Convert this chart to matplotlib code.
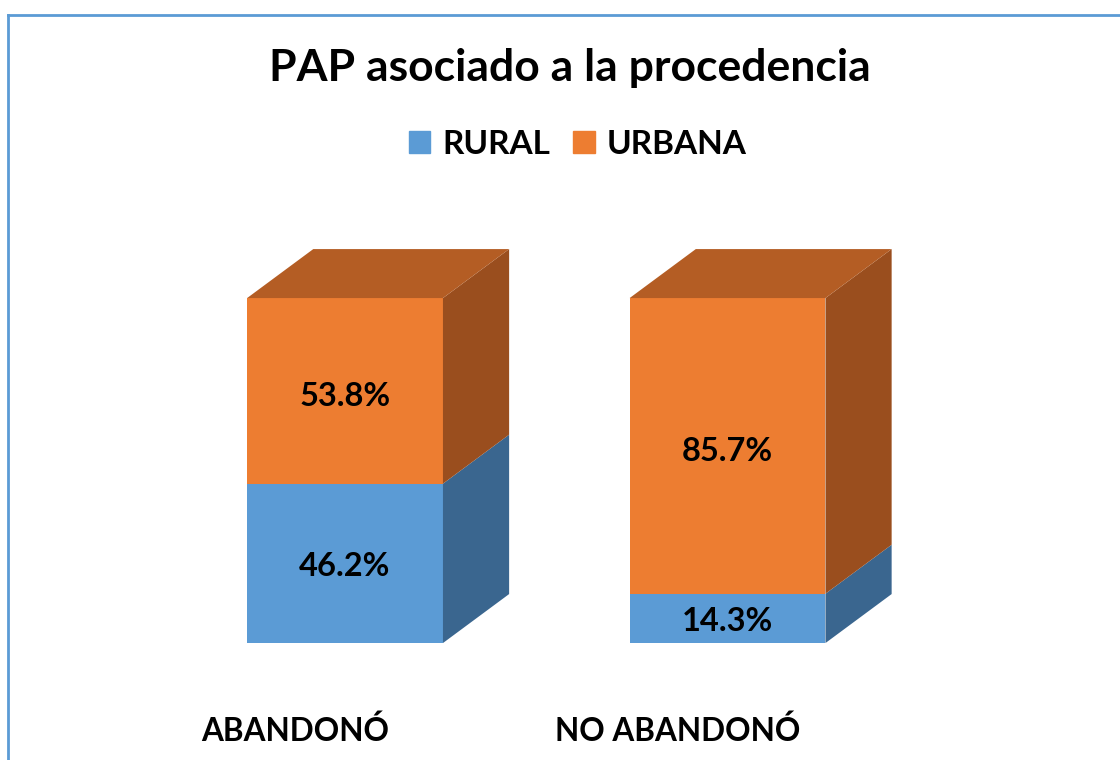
import matplotlib
matplotlib.use("Agg")
import matplotlib.pyplot as plt
from matplotlib.patches import Patch
from matplotlib.lines import Line2D

plt.rcParams['font.family'] = ['Lato', 'DejaVu Sans']

# Datos
categorias = ["ABANDONÓ", "NO ABANDONÓ"]
rural = [46.2, 14.3]
urbana = [53.8, 85.7]
series = ["RURAL", "URBANA"]

# colores (frente, lado, arriba)
c_rural = ("#5B9BD5", "#3A668F", "#4A7FB0")
c_urbana = ("#ED7D31", "#9A4E1E", "#B45D24")

ancho = 0.512
dx, dy = 0.173, 14.2

fig = plt.figure(figsize=(11.2, 7.6), dpi=100)
ax = fig.add_axes([0, 0, 1, 1])
ax.set_xlim(-0.902, 2.026)
ax.set_ylim(-33.9, 186.4)
ax.axis("off")


def segmento(x, y0, y1, colores, tapa):
    x0, x1 = x - ancho / 2, x + ancho / 2
    # frente
    ax.fill([x0, x1, x1, x0], [y0, y0, y1, y1], color=colores[0], lw=0)
    # lado
    ax.fill([x1, x1 + dx, x1 + dx, x1], [y0, y0 + dy, y1 + dy, y1], color=colores[1], lw=0)
    if tapa:
        ax.fill([x0, x1, x1 + dx, x0 + dx], [y1, y1, y1 + dy, y1 + dy], color=colores[2], lw=0)


for i, cat in enumerate(categorias):
    segmento(i, 0, rural[i], c_rural, False)
    segmento(i, rural[i], rural[i] + urbana[i], c_urbana, True)
    ax.text(i, rural[i] / 2 - 0.8, f"{rural[i]:.1f}%", ha="center", va="center",
            fontsize=23.5, fontweight="bold", color="black")
    ax.text(i, rural[i] + urbana[i] / 2 - 1.5, f"{urbana[i]:.1f}%", ha="center", va="center",
            fontsize=23.5, fontweight="bold", color="black")
    ax.text(i - 0.13, -25.3, cat, ha="center", va="center",
            fontsize=22.7, fontweight="bold", color="black")

fig.text(0.509, 1 - 68 / 760, "PAP asociado a la procedencia", ha="center", va="center",
         fontsize=32, fontweight="bold")

handles = [Patch(color=c_rural[0]), Patch(color=c_urbana[0])]
fig.legend(handles, series, loc="center", bbox_to_anchor=(0.5156, 1 - 144 / 760), ncol=2,
           frameon=False, handlelength=0.65, handleheight=0.65, handletextpad=0.35,
           columnspacing=0.7, prop={"size": 24, "weight": "bold"})

# borde
fig.add_artist(Line2D([8 / 1120, 8 / 1120], [0, 1 - 15 / 760], transform=fig.transFigure,
                      color="#5B9BD5", lw=2))
fig.add_artist(Line2D([8 / 1120, 1], [1 - 15 / 760, 1 - 15 / 760], transform=fig.transFigure,
                      color="#5B9BD5", lw=2))

fig.savefig("out.png", dpi=100, facecolor="white")
